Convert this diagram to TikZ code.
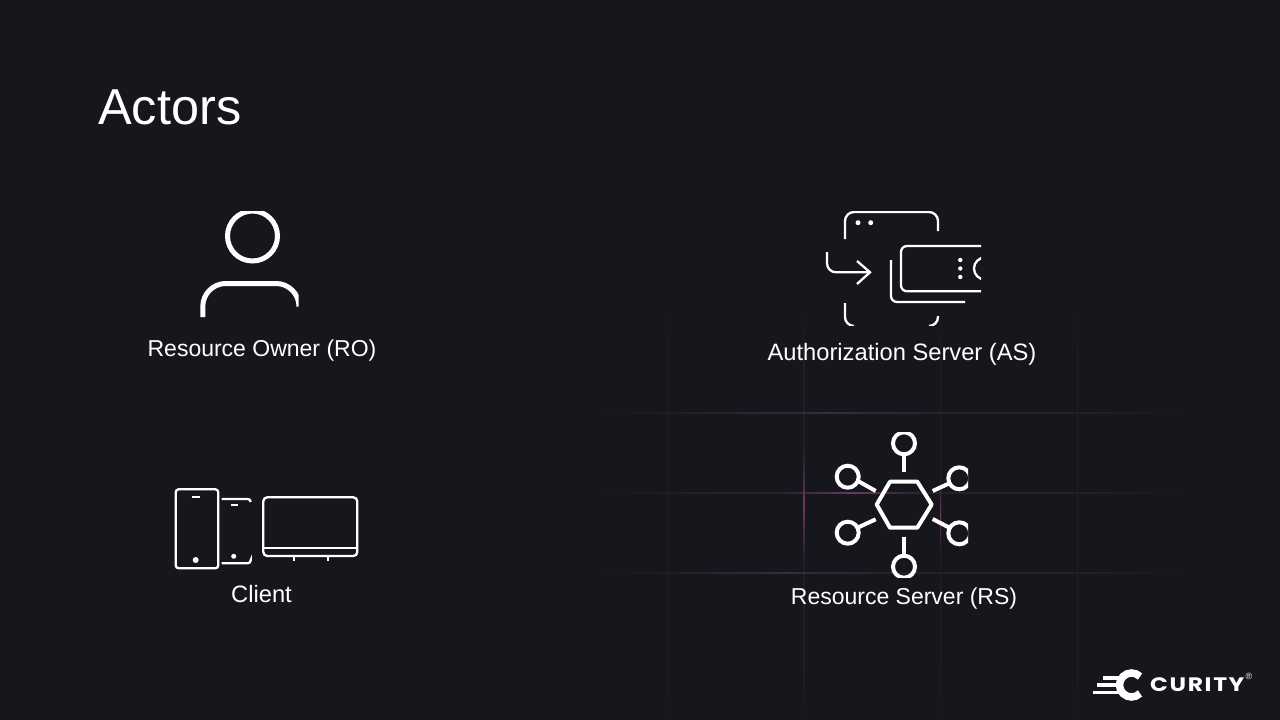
\documentclass[tikz,border=0pt]{standalone}
\usepackage{fontspec}
\setmainfont{Liberation Sans}
\newfontfamily\logofont[LetterSpace=7]{Poppins}
\definecolor{bgdark}{HTML}{15171C}
\definecolor{gridv}{HTML}{201F26}
\definecolor{gridh}{HTML}{25212A}
\definecolor{gridbright}{HTML}{3A2B3D}
\definecolor{gridpink}{HTML}{6E3662}
\pgfdeclareverticalshading{fadev}{100bp}{color(0bp)=(bgdark); color(25bp)=(bgdark); color(32bp)=(gridv); color(68bp)=(gridv); color(75bp)=(bgdark); color(100bp)=(bgdark)}
\pgfdeclarehorizontalshading{fadeh}{100bp}{color(0bp)=(bgdark); color(25bp)=(bgdark); color(35bp)=(gridh); color(65bp)=(gridh); color(75bp)=(bgdark); color(100bp)=(bgdark)}
\tikzset{
  glyph/.style={draw=white,line width=4pt,fill=none},
  bold glyph/.style={draw=white,line width=5pt,fill=none},
  thin glyph/.style={draw=white,line width=2.3pt,fill=none},
  label/.style={text=white,font=\fontsize{#1}{28}\selectfont,inner sep=0pt},
  glowh/.style={left color=gridh,right color=gridh,middle color=#1},
  glowv/.style={top color=gridv,bottom color=gridv,middle color=#1}
}
\begin{document}
\begin{tikzpicture}[x=1pt,y=-1pt]
  \fill[bgdark] (0,0) rectangle (1280,720);
  \useasboundingbox (0,0) rectangle (1280,720);
  % backdrop lines
  \foreach \ly in {412,492,572.5}
    \shade[shading=fadeh] (600,\ly) rectangle (1185,\ly+1);
  \foreach \lx in {667,803.5,940,1077}
    \shade[shading=fadev] (\lx,310) rectangle (\lx+1,720);
  \fill[glowh=gridbright] (700,412) rectangle (960,413);
  \fill[glowh=gridbright] (680,572.5) rectangle (900,573.5);
  \fill[glowh=gridpink] (780,492) rectangle (925,493);
  \fill[glowv=gridpink] (803.5,450) rectangle (804.5,560);
  \fill[glowv=gridpink] (940,480) rectangle (941,550);
  \node[text=white,font=\fontsize{50.5}{60}\selectfont,inner sep=0pt,anchor=base west] (title) at (98,124) {Actors};
  % resource owner
  \begin{scope}
    \clip (190,211) rectangle (298.5,317);
    \draw[bold glyph] (252.5,236) circle (25);
    \draw[bold glyph,rounded corners=23pt] (202.8,317) -- (202.8,283.5) -- (299,283.5) -- (299,306.5);
  \end{scope}
  \node[label=23] (ro) at (262,351) {Resource Owner (RO)};
  % authorization server
  \begin{scope}
    \clip (820,211) rectangle (981,325);
    \draw[thin glyph,rounded corners=9pt] (845,239) -- (845,212) -- (938,212) -- (938,231);
    \draw[thin glyph,rounded corners=9pt] (845,303) -- (845,326) -- (853,326);
    \draw[thin glyph,rounded corners=9pt] (938,316) -- (938,326) -- (931,326);
    \fill[white] (858,222.7) circle (2.5) (870.7,222.7) circle (2.5);
    \draw[thin glyph,rounded corners=9pt] (827,252) -- (827,272.3) -- (870,272.3);
    \draw[thin glyph] (857,261) -- (870,272.3) -- (857,284);
    \draw[thin glyph,rounded corners=6pt] (891,260) -- (891,302) -- (965,302);
    \draw[thin glyph,rounded corners=6pt] (985,246) -- (901,246) -- (901,291.3) -- (985,291.3);
    \fill[white] (960.3,260) circle (2.2) (960.3,268.5) circle (2.2) (960.3,277) circle (2.2);
    \draw[thin glyph] (985,268.5) circle (11);
  \end{scope}
  \node[label=23.7] (as) at (902,354) {Authorization Server (AS)};
  % client
  \draw[thin glyph,rounded corners=3pt] (175.7,489.3) rectangle (218.3,568.3);
  \draw[thin glyph] (191.7,496.7) -- (200,496.7);
  \fill[white] (195.7,560) circle (3);
  \draw[thin glyph,rounded corners=3pt] (221.7,499) -- (250.7,499) -- (250.7,502);
  \draw[thin glyph,rounded corners=3pt] (221.7,563.3) -- (250.7,563.3) -- (250.7,560.5);
  \draw[thin glyph] (230.7,505.3) -- (237.7,505.3);
  \fill[white] (233.7,556.3) circle (2.5);
  \draw[thin glyph,rounded corners=4pt] (263.3,497.3) rectangle (357.3,556);
  \draw[thin glyph] (263.3,547.7) -- (357.3,547.7);
  \draw[thin glyph] (294.3,556) -- (294.3,561) (328.3,556) -- (328.3,561);
  \node[label=23.7] (client) at (261.5,594) {Client};
  % resource server
  \begin{scope}
    \clip (830,432) rectangle (968,577);
    \draw[glyph,line join=round] (876.7,504.5) -- (890,481.7) -- (917.3,481.7) -- (931.7,504.5) -- (917.3,527.7) -- (890,527.7) -- cycle;
    \foreach \cx/\cy in {904/443.3,904/566.7,847.7/476.7,847.7/532.7,959.3/478.3,959.3/533.3}
      \draw[glyph] (\cx,\cy) circle (11);
    \draw[glyph] (904,454) -- (904,471.7);
    \draw[glyph] (904,536.7) -- (904,555);
    \draw[glyph] (858,481) -- (875.7,491);
    \draw[glyph] (858,527.5) -- (875.7,519.3);
    \draw[glyph] (932.7,491) -- (950,483);
    \draw[glyph] (932.7,519) -- (950,528);
  \end{scope}
  \node[label=23] (rs) at (904,599) {Resource Server (RS)};
  % logo
  \draw[white,line width=7.5pt] (1140,676.5) arc[start angle=-45,end angle=-315,radius=12];
  \fill[white] (1103,676) rectangle (1120,679.5);
  \fill[white] (1097,683) rectangle (1120,686.5);
  \fill[white] (1093,690.5) rectangle (1120,694);
  \node[text=white,font=\logofont\bfseries\fontsize{19.5}{22}\selectfont,inner sep=0pt,anchor=base west] (curity) at (1150,691) {\scalebox{1.2}[1]{CURITY}};
  \node[text=white,font=\fontsize{9}{10}\selectfont,inner sep=0pt] (reg) at (1249,676) {®};
\end{tikzpicture}
\end{document}
